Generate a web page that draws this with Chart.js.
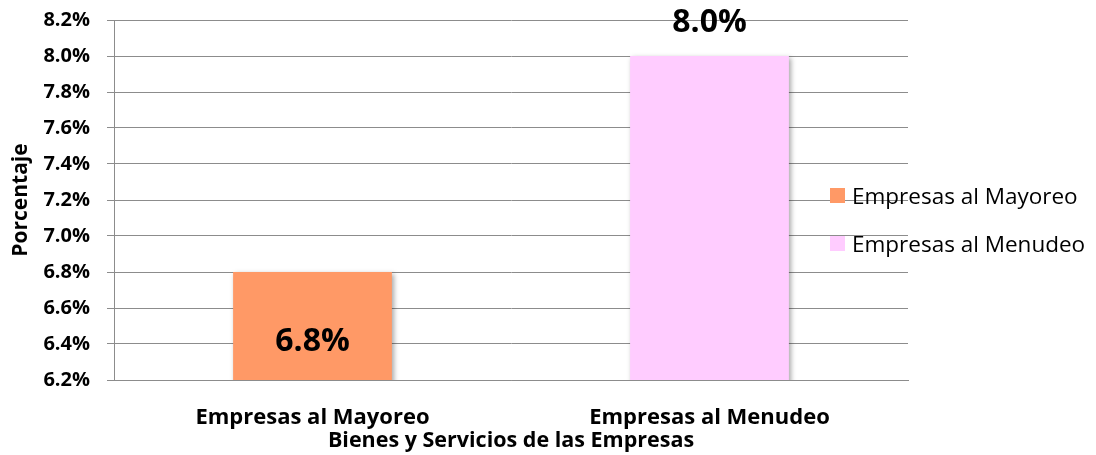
<!DOCTYPE html>
<html>
<head>
<meta charset="utf-8">
<script src="https://cdn.jsdelivr.net/npm/chart.js@4"></script>
<style>
  body { margin: 0; background: #fff; }
  #wrap { position: relative; width: 1096px; height: 455px; }
  #leyenda { position: absolute; left: 830px; top: 171px; font: 22.5px "Open Sans", sans-serif; color: #000; }
  .item { display: flex; align-items: center; height: 48px; }
  .caja { width: 15px; height: 15px; margin-right: 7px; }
</style>
</head>
<body>
<div id="wrap">
  <canvas id="myChart" width="1096" height="455"></canvas>
  <div id="leyenda"></div>
</div>
<script>
// datos de la grafica
const categorias = ["Empresas al Mayoreo", "Empresas al Menudeo"];
const porcentajes = [6.8, 8.0];
const colores = ["#FF9966", "#FFCCFF"];
const ejeMin = 6.2;
const ejeMax = 8.2;
const paso = 0.2;

// etiquetas de valor: una dentro de la base, otra arriba de la barra
const posEtiqueta = ["base", "arriba"];

const sombraBarras = {
  id: "sombraBarras",
  beforeDatasetsDraw(chart) {
    const ctx = chart.ctx;
    ctx.save();
    ctx.shadowColor = "rgba(0,0,0,0.35)";
    ctx.shadowBlur = 5;
    ctx.shadowOffsetX = 2;
    ctx.shadowOffsetY = 2;
  },
  afterDatasetsDraw(chart) {
    chart.ctx.restore();
  },
};

const etiquetasValor = {
  id: "etiquetasValor",
  afterDatasetsDraw(chart) {
    const ctx = chart.ctx;
    const meta = chart.getDatasetMeta(0);
    const abajo = chart.chartArea.bottom;
    ctx.save();
    ctx.font = "bold 32px 'Open Sans', sans-serif";
    ctx.fillStyle = "#000";
    ctx.textAlign = "center";
    ctx.textBaseline = "middle";
    meta.data.forEach((bar, i) => {
      const txt = porcentajes[i].toFixed(1) + "%";
      let y;
      if (posEtiqueta[i] === "base") {
        y = Math.min(bar.base, abajo) - 38;
      } else {
        y = bar.y - 33;
      }
      ctx.fillText(txt, bar.x, y);
    });
    ctx.restore();
  },
};

function dibujar() {
  const ctx = document.querySelector("#myChart").getContext("2d");
  new Chart(ctx, {
    type: "bar",
    data: {
      labels: categorias,
      datasets: [
        {
          label: "Porcentaje",
          data: porcentajes,
          backgroundColor: colores,
          borderWidth: 0,
          barPercentage: 0.4,
          categoryPercentage: 1.0,
        },
      ],
    },
    options: {
      responsive: false,
      animation: false,
      layout: { padding: { left: 8, top: 0, right: 188, bottom: 0 } },
      plugins: {
        legend: { display: false },
        tooltip: { enabled: false },
      },
      scales: {
        x: {
          afterFit: (scale) => {
            scale.height = 75;
          },
          grid: { display: false },
          border: { display: true, color: "#8c8c8c", width: 1 },
          ticks: {
            color: "#000",
            font: { family: "'Open Sans', sans-serif", size: 22, weight: "bold" },
            padding: 17,
          },
          title: {
            display: true,
            text: "Bienes y Servicios de las Empresas",
            color: "#000",
            font: { family: "'Open Sans', sans-serif", size: 21.5, weight: "bold" },
            padding: { top: 0, bottom: 1 },
          },
        },
        y: {
          min: ejeMin,
          max: ejeMax,
          afterFit: (scale) => {
            scale.width = 106;
            scale.paddingTop = 20;
            scale.paddingBottom = 12;
          },
          grid: { color: "#8c8c8c", lineWidth: 1, tickLength: 7 },
          border: { display: true, color: "#8c8c8c", width: 1 },
          ticks: {
            stepSize: paso,
            color: "#000",
            padding: 17,
            font: { family: "'Open Sans', sans-serif", size: 20, weight: "bold" },
            callback: (v) => v.toFixed(1) + "%",
          },
          title: {
            display: true,
            text: "Porcentaje",
            color: "#000",
            font: { family: "'Open Sans', sans-serif", size: 21, weight: "bold" },
            padding: { top: 0, bottom: 0 },
          },
        },
      },
    },
    plugins: [sombraBarras, etiquetasValor],
  });
}

// leyenda a la derecha
const leyenda = document.querySelector("#leyenda");
categorias.forEach((cat, i) => {
  const item = document.createElement("div");
  item.className = "item";
  const caja = document.createElement("span");
  caja.className = "caja";
  caja.style.background = colores[i];
  const txt = document.createElement("span");
  txt.textContent = cat;
  item.appendChild(caja);
  item.appendChild(txt);
  leyenda.appendChild(item);
});

Promise.all([
  document.fonts.load("bold 20px 'Open Sans'"),
  document.fonts.load("20px 'Open Sans'"),
])
  .catch(() => {})
  .then(dibujar);
</script>
</body>
</html>
